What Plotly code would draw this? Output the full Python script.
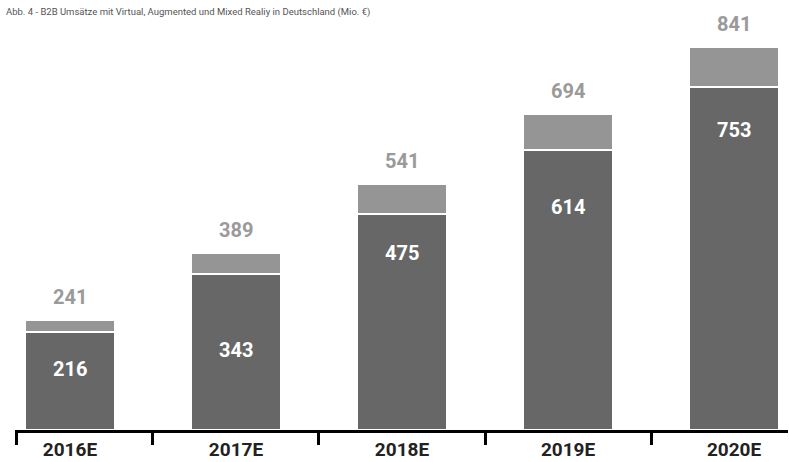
import plotly.graph_objects as go

# ---- data ----
years = ["2016E", "2017E", "2018E", "2019E", "2020E"]
base_values = [216, 343, 475, 614, 753]
total_values = [241, 389, 541, 694, 841]
top_values = [t - b for t, b in zip(total_values, base_values)]
title_text = "Abb. 4 - B2B Umsätze mit Virtual, Augmented und Mixed Realiy in Deutschland (Mio. €)"

# ---- style ----
dark = "#676767"
light = "#959595"
font_fam = "Roboto"
inner_drop = [37, 76, 39, 57, 43]  # px below segment top for the inner labels

x = list(range(len(years)))

fig = go.Figure()
fig.add_trace(go.Bar(x=x, y=base_values, width=0.54, marker=dict(color=dark, line=dict(color="white", width=2)),
                     hoverinfo="skip"))
fig.add_trace(go.Bar(x=x, y=top_values, width=0.54, marker=dict(color=light, line=dict(color="white", width=2)),
                     hoverinfo="skip"))

annotations = []
for i in x:
    annotations.append(dict(x=i, y=total_values[i], xref="x", yref="y", text=f"<b>{total_values[i]}</b>",
                            showarrow=False, yshift=23, font=dict(family=font_fam, size=20, color="#9a9a9a")))
    annotations.append(dict(x=i, y=base_values[i], xref="x", yref="y", text=f"<b>{base_values[i]}</b>",
                            showarrow=False, yshift=-inner_drop[i], font=dict(family=font_fam, size=20, color="white")))

fig.update_layout(
    width=789, height=462,
    margin=dict(l=15, r=1, t=5, b=26),
    barmode="stack",
    showlegend=False,
    plot_bgcolor="white", paper_bgcolor="white",
    bargap=0,
    title=dict(text=title_text, x=6/789, xanchor="left", y=1-12/462, yanchor="middle",
               font=dict(family=font_fam, size=9.5, color="#555555")),
    annotations=annotations,
    xaxis=dict(range=[-0.331, 4.325], tickvals=x, ticktext=[f"<b>{y}</b>" for y in years], ticks="",
               showline=True, linecolor="black", linewidth=3, showgrid=False, zeroline=False,
               tickfont=dict(family=font_fam, size=19, color="#222222"),
               minor=dict(tickmode="array", tickvals=[-0.325, 0.5, 1.5, 2.5, 3.5], ticks="outside", ticklen=12,
                          tickwidth=3, tickcolor="black", showgrid=False)),
    yaxis=dict(range=[0, 933], visible=False, showgrid=False, zeroline=False),
)

fig.write_html("out.html")
